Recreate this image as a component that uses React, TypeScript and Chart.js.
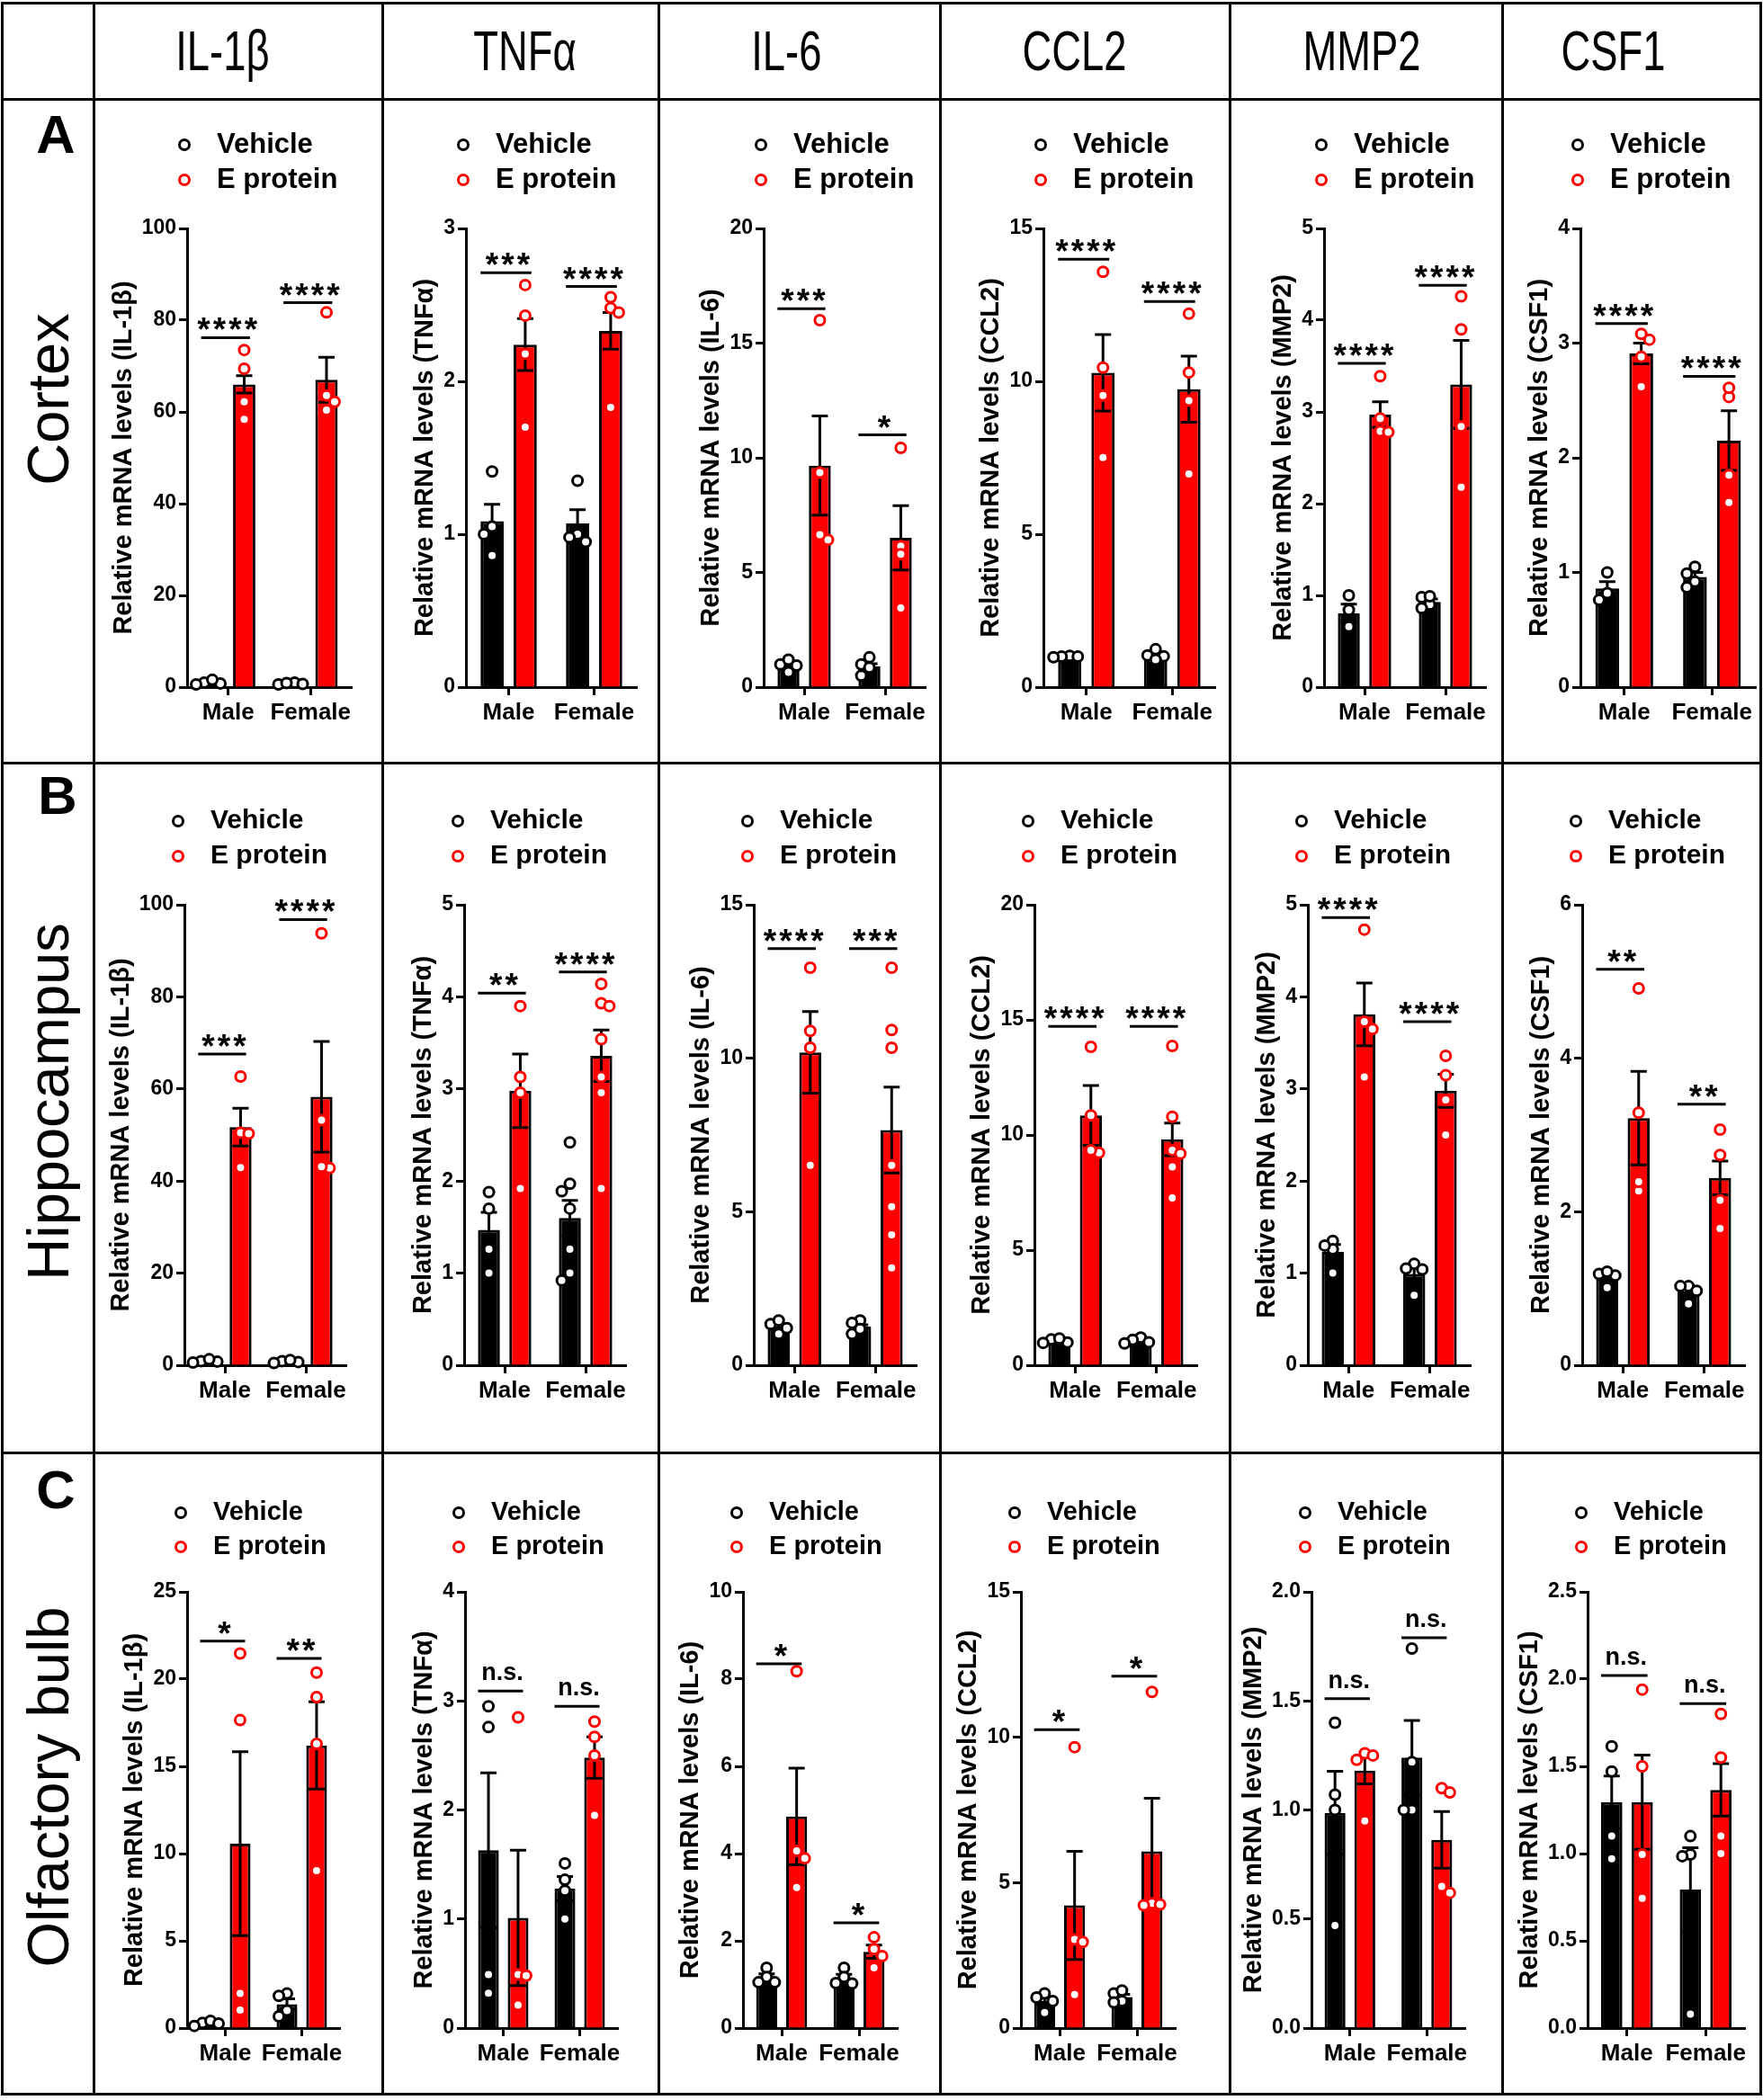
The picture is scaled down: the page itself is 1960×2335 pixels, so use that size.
import React, { useEffect, useRef } from "react";
import { Chart, registerables } from "chart.js";

Chart.register(...registerables);

const FONT = '"Liberation Sans", Arial, Helvetica, sans-serif';

// ---------------- DATA ----------------
const genes = ["IL-1β", "TNFα", "IL-6", "CCL2", "MMP2", "CSF1"];
const regions = ["Cortex", "Hippocampus", "Olfactory bulb"];
const regionLetters = ["A", "B", "C"];
const sexes = ["Male", "Female"];
const treatments = ["Vehicle", "E protein"];

// Cortex (A)
const cortexYMax = [100, 3, 20, 15, 5, 4];
const cortexYStep = [20, 1, 5, 5, 1, 1];
const cortexVehicleMean = [[1.0, 0.8], [1.085, 1.07], [0.94, 0.9], [1.0, 1.05], [0.805, 0.93], [0.86, 0.96]];
const cortexVehicleSem = [[0.2, 0.1], [0.11, 0.09], [0.08, 0.12], [0.02, 0.06], [0.1, 0.03], [0.06, 0.04]];
const cortexEProteinMean = [[66.0, 67.0], [2.24, 2.33], [9.66, 6.51], [10.28, 9.74], [2.97, 3.3], [2.91, 2.15]];
const cortexEProteinSem = [[1.9, 4.9], [0.17, 0.12], [2.16, 1.4], [1.25, 1.08], [0.14, 0.48], [0.09, 0.26]];
const cortexVehiclePoints = [
  [[1.0, 0.6, 0.8, 1.6], [1.0, 0.6, 0.7, 0.9]],
  [[1.41, 1.05, 1.0, 0.86], [1.35, 1.0, 0.98, 0.95]],
  [[0.99, 0.94, 1.2, 0.65], [0.99, 0.85, 1.3, 0.5]],
  [[1.02, 1.0, 1.0, 0.98], [1.04, 1.01, 1.24, 0.9]],
  [[1.0, 0.84, 0.66], [0.98, 0.9, 0.99, 0.86]],
  [[1.0, 0.82, 0.76], [1.05, 0.99, 0.92, 0.87]],
];
const cortexEProteinPoints = [
  [[73.5, 69.4, 62.2, 58.4], [81.7, 63.6, 62.2, 60.4]],
  [[2.63, 2.43, 2.18, 1.7], [2.55, 2.48, 2.45, 1.83]],
  [[16.0, 9.35, 6.42, 6.65], [10.43, 6.15, 5.79, 3.45]],
  [[13.58, 10.45, 9.54, 7.51], [12.21, 10.29, 9.37, 6.97]],
  [[3.39, 2.93, 2.79, 2.78], [4.26, 3.9, 2.84, 2.18]],
  [[3.03, 3.08, 2.88, 2.62], [2.53, 2.61, 1.85, 1.61]],
];
const cortexSigLabels = [["****", "****"], ["***", "****"], ["***", "*"], ["****", "****"], ["****", "****"], ["****", "****"]];
const cortexSigLevel = [[76.2, 83.8], [2.71, 2.62], [16.5, 11.0], [13.99, 12.61], [3.53, 4.38], [3.17, 2.71]];

// Hippocampus (B)
const hippoYMax = [100, 5, 15, 20, 5, 6];
const hippoYStep = [20, 1, 5, 5, 1, 2];
const hippoVehicleMean = [[0.9, 0.8], [1.47, 1.6], [1.26, 1.26], [1.06, 1.06], [1.23, 0.99], [1.17, 0.96]];
const hippoVehicleSem = [[0.15, 0.12], [0.19, 0.19], [0.09, 0.06], [0.04, 0.06], [0.08, 0.07], [0.05, 0.05]];
const hippoEProteinMean = [[51.7, 58.3], [2.98, 3.36], [10.19, 7.66], [10.85, 9.81], [3.81, 2.98], [3.22, 2.44]];
const hippoEProteinSem = [[4.1, 12.0], [0.4, 0.28], [1.33, 1.4], [1.3, 0.71], [0.34, 0.18], [0.61, 0.22]];
const hippoVehiclePoints = [
  [[0.9, 0.6, 0.8, 1.3], [0.9, 0.5, 0.7, 1.1]],
  [[1.7, 1.88, 1.26, 1.0], [2.42, 1.97, 1.89, 1.7, 1.26, 1.0, 0.92]],
  [[1.34, 1.02, 1.21, 1.46], [1.46, 1.38, 1.02, 1.18]],
  [[1.12, 0.99, 1.16, 0.97], [1.2, 1.1, 1.0, 0.95]],
  [[1.35, 1.26, 1.0, 1.3], [1.1, 1.04, 0.76, 1.05]],
  [[1.19, 1.01, 1.17, 1.22], [1.03, 0.97, 0.8, 1.03]],
];
const hippoEProteinPoints = [
  [[62.7, 50.5, 50.3, 42.9], [93.8, 53.2, 42.8, 43.1]],
  [[3.9, 3.13, 2.96, 1.92], [4.14, 3.93, 3.9, 3.54, 3.13, 2.96, 1.92]],
  [[12.95, 10.89, 10.34, 6.51], [12.95, 10.92, 10.34, 6.51, 5.16, 4.25, 3.17]],
  [[13.83, 10.85, 9.23, 9.34], [13.87, 10.79, 9.34, 9.19, 8.61, 7.27]],
  [[4.73, 3.73, 3.65, 3.13], [3.36, 3.15, 2.88, 2.5]],
  [[4.91, 3.29, 2.27, 2.39], [3.07, 2.74, 2.15, 1.78]],
];
const hippoSigLabels = [["***", "****"], ["**", "****"], ["****", "***"], ["****", "****"], ["****", "****"], ["**", "**"]];
const hippoSigLevel = [[67.6, 96.8], [4.04, 4.27], [13.57, 13.57], [14.72, 14.72], [4.86, 3.73], [5.16, 3.4]];

// Olfactory bulb (C)
const olfYMax = [25, 4, 10, 15, 2, 2.5];
const olfYStep = [5, 1, 2, 5, 0.5, 0.5];
const olfVehicleMean = [[0.27, 1.37], [1.63, 1.28], [1.16, 1.15], [0.93, 1.07], [0.987, 1.24], [1.295, 0.794]];
const olfVehicleSem = [[0.07, 0.3], [0.71, 0.11], [0.08, 0.08], [0.14, 0.09], [0.19, 0.17], [0.15, 0.24]];
const olfEProteinMean = [[10.57, 16.2], [1.01, 2.48], [4.85, 1.75], [4.22, 6.08], [1.18, 0.863], [1.295, 1.365]];
const olfEProteinSem = [[5.27, 2.5], [0.62, 0.19], [1.11, 0.15], [1.86, 1.82], [0.06, 0.13], [0.27, 0.15]];
const olfVehiclePoints = [
  [[0.29, 0.12, 0.41, 0.26], [1.98, 1.84, 1.0, 0.67]],
  [[2.95, 2.76, 0.49, 0.32], [1.51, 1.36, 1.26, 1.0]],
  [[1.38, 1.17, 1.05, 1.05], [1.38, 1.17, 1.03, 1.02]],
  [[1.19, 0.93, 0.53, 1.05], [1.19, 0.93, 1.29, 0.88]],
  [[1.4, 1.07, 1.0, 0.47], [1.74, 1.22, 1.0, 1.0]],
  [[1.615, 1.47, 1.1, 0.97], [1.1, 0.995, 0.985, 0.08]],
];
const olfEProteinPoints = [
  [[21.47, 17.65, 1.98, 1.03], [20.37, 18.97, 16.29, 9.02]],
  [[2.85, 0.49, 0.48, 0.21], [2.81, 2.67, 2.5, 1.95]],
  [[8.18, 4.06, 3.89, 3.22], [2.08, 1.81, 1.65, 1.38]],
  [[9.66, 3.05, 2.96, 1.15], [11.56, 4.29, 4.22, 4.25]],
  [[1.26, 1.25, 1.23, 0.95], [1.1, 1.08, 0.62, 0.65]],
  [[1.94, 1.5, 0.995, 0.744], [1.8, 1.55, 1.1, 1.0]],
];
const olfSigLabels = [["*", "**"], ["n.s.", "n.s."], ["*", "*"], ["*", "*"], ["n.s.", "n.s."], ["n.s.", "n.s."]];
const olfSigLevel = [[22.18, 21.18], [3.09, 2.95], [8.35, 2.41], [10.26, 12.1], [1.51, 1.79], [2.02, 1.86]];

const REGION_TABLE = [
  { yMax: cortexYMax, step: cortexYStep, vm: cortexVehicleMean, vs: cortexVehicleSem, em: cortexEProteinMean, es: cortexEProteinSem, vp: cortexVehiclePoints, ep: cortexEProteinPoints, sig: cortexSigLabels, sigY: cortexSigLevel },
  { yMax: hippoYMax, step: hippoYStep, vm: hippoVehicleMean, vs: hippoVehicleSem, em: hippoEProteinMean, es: hippoEProteinSem, vp: hippoVehiclePoints, ep: hippoEProteinPoints, sig: hippoSigLabels, sigY: hippoSigLevel },
  { yMax: olfYMax, step: olfYStep, vm: olfVehicleMean, vs: olfVehicleSem, em: olfEProteinMean, es: olfEProteinSem, vp: olfVehiclePoints, ep: olfEProteinPoints, sig: olfSigLabels, sigY: olfSigLevel },
];

// ---------------- LAYOUT ----------------
const COL_X = [2, 104, 425, 732, 1045, 1367, 1670, 1957];
const ROW_Y = [3, 110, 848, 1615, 2328];
const PLOT_TOP = [254, 1006, 1770];
const PLOT_BOTTOM = [764, 1518, 2255];
const AXIS_LEFT = [
  [208, 518, 849, 1160, 1472, 1757],
  [205, 516, 838, 1150, 1454, 1759],
  [208, 517, 826, 1135, 1458, 1765],
];
const AXIS_RIGHT = [
  [391, 708, 1029, 1351, 1652, 1952],
  [385, 696, 1019, 1331, 1635, 1940],
  [378, 687, 998, 1307, 1629, 1940],
];
const LEGEND_DY = [[93, 54], [93, 54], [88, 50]];
const LEGEND_DX = [-3, -7, -7];
const LEGEND_FONT = [31, 30, 29];
const HEADER_CX = [247, 583, 874, 1195, 1514, 1794];
const ROW_LABEL_CY = [444, 1225, 1987];
const LETTER_POS = [[62, 150], [64, 885], [62, 1657]];
const COLORS = ["#000000", "#ff0000"];
const X_AXIS_H = 50;
const PT_R = 5.5;
const SWARM_STEP = 9;

// Simple beeswarm: spread points that would overlap, preferring one side per treatment
function swarmX(py: number[], cx: number, dir: number): number[] {
  const idx = py.map((_, i) => i).sort((a, b) => py[a] - py[b]);
  const placed: number[][] = [];
  const out: number[] = new Array(py.length).fill(cx);
  for (const i of idx) {
    for (let n = 0; n < 40; n++) {
      const k = Math.ceil(n / 2) * (n % 2 === 1 ? dir : -dir);
      const x = cx + k * SWARM_STEP;
      if (placed.every((p) => Math.hypot(p[0] - x, p[1] - py[i]) >= SWARM_STEP - 0.01)) {
        out[i] = x;
        break;
      }
    }
    placed.push([out[i], py[i]]);
  }
  return out;
}

function drawCircle(ctx: CanvasRenderingContext2D, x: number, y: number, color: string) {
  ctx.beginPath();
  ctx.arc(x, y, PT_R, 0, Math.PI * 2);
  ctx.fillStyle = "#ffffff";
  ctx.fill();
  ctx.lineWidth = 3;
  ctx.strokeStyle = color;
  ctx.stroke();
}

function makeOverlay(r: number, g: number) {
  const d = REGION_TABLE[r];
  return {
    id: "overlay" + r + "_" + g,
    afterDatasetsDraw(chart: any) {
      const ctx: CanvasRenderingContext2D = chart.ctx;
      const ys = chart.scales.y;
      const metas = [chart.getDatasetMeta(0), chart.getDatasetMeta(1)];
      const means = [d.vm[g], d.em[g]];
      const sems = [d.vs[g], d.es[g]];
      const pts = [d.vp[g], d.ep[g]];
      ctx.save();
      // error bars (mean ± SEM)
      ctx.strokeStyle = "#000";
      ctx.lineWidth = 3;
      for (let t = 0; t < 2; t++) {
        for (let s = 0; s < 2; s++) {
          const bar = metas[t].data[s];
          const x = bar.x;
          const m = means[t][s];
          const e = sems[t][s];
          const yt = ys.getPixelForValue(m + e);
          const yb = ys.getPixelForValue(Math.max(0, m - e));
          ctx.beginPath();
          ctx.moveTo(x, yb);
          ctx.lineTo(x, yt);
          ctx.moveTo(x - 9, yt);
          ctx.lineTo(x + 9, yt);
          ctx.moveTo(x - 9, yb);
          ctx.lineTo(x + 9, yb);
          ctx.stroke();
        }
      }
      // individual points
      for (let t = 0; t < 2; t++) {
        for (let s = 0; s < 2; s++) {
          const bar = metas[t].data[s];
          const py = pts[t][s].map((v: number) => ys.getPixelForValue(v));
          const px = swarmX(py, bar.x, t === 0 ? -1 : 1);
          for (let k = 0; k < py.length; k++) drawCircle(ctx, px[k], py[k], COLORS[t]);
        }
      }
      // significance brackets
      for (let s = 0; s < 2; s++) {
        const vb = metas[0].data[s];
        const eb = metas[1].data[s];
        const x1 = vb.x - vb.width / 2;
        const x2 = eb.x + eb.width / 2 - 6;
        const y = ys.getPixelForValue(d.sigY[g][s]);
        ctx.strokeStyle = "#000";
        ctx.lineWidth = 3;
        ctx.beginPath();
        ctx.moveTo(x1, y);
        ctx.lineTo(x2, y);
        ctx.stroke();
        const label = d.sig[g][s];
        const cx = (x1 + x2) / 2 + 2;
        ctx.fillStyle = "#000";
        ctx.textAlign = "center";
        ctx.textBaseline = "alphabetic";
        if (label.charAt(0) === "*") {
          ctx.font = "bold 37px " + FONT;
          const m = ctx.measureText("*");
          const base = y - 8 - m.actualBoundingBoxDescent;
          const n = label.length;
          for (let k = 0; k < n; k++) ctx.fillText("*", cx + (k - (n - 1) / 2) * 17.5, base);
        } else {
          ctx.font = "bold 27px " + FONT;
          ctx.fillText(label, cx, y - 12);
        }
      }
      ctx.restore();
    },
    afterDraw(chart: any) {
      const ctx: CanvasRenderingContext2D = chart.ctx;
      const ca = chart.chartArea;
      const ys = chart.scales.y;
      ctx.save();
      // legend
      const lx = ca.left + LEGEND_DX[r];
      for (let t = 0; t < 2; t++) {
        const ly = ca.top - LEGEND_DY[r][t];
        drawCircle(ctx, lx, ly, COLORS[t]);
        ctx.font = "bold " + LEGEND_FONT[r] + "px " + FONT;
        ctx.fillStyle = "#000";
        ctx.textAlign = "left";
        ctx.textBaseline = "middle";
        ctx.fillText(treatments[t], lx + 36, ly);
      }
      // y-axis title
      ctx.font = "bold 23px " + FONT;
      let maxW = 0;
      for (const tk of ys.ticks) maxW = Math.max(maxW, ctx.measureText(String(tk.label)).width);
      const tx = ca.left - 8 - 3 - maxW - 7 - 14;
      ctx.translate(tx, (ca.top + ca.bottom) / 2);
      ctx.rotate(-Math.PI / 2);
      ctx.font = "bold 29px " + FONT;
      ctx.textAlign = "center";
      ctx.textBaseline = "middle";
      ctx.fillStyle = "#000";
      ctx.fillText("Relative mRNA levels (" + genes[g] + ")", 0, 0);
      ctx.restore();
    },
  };
}

function Panel({ r, g }: { r: number; g: number }) {
  const ref = useRef<HTMLCanvasElement | null>(null);
  const left = COL_X[g + 1];
  const right = COL_X[g + 2];
  const top = ROW_Y[r + 1];
  const bottom = ROW_Y[r + 2];
  const W = right - left;
  const H = bottom - top;
  useEffect(() => {
    const d = REGION_TABLE[r];
    const step = d.step[g];
    const gridOpts = { display: true, drawOnChartArea: false, drawTicks: true, tickLength: 9, tickWidth: 3, tickColor: "#000" };
    const borderOpts = { display: true, color: "#000", width: 3 };
    const chart = new Chart(ref.current as HTMLCanvasElement, {
      type: "bar",
      data: {
        labels: sexes,
        datasets: [
          { label: treatments[0], data: d.vm[g], backgroundColor: COLORS[0], borderColor: "#000", borderWidth: 3, categoryPercentage: 0.775, barPercentage: 0.7 },
          { label: treatments[1], data: d.em[g], backgroundColor: COLORS[1], borderColor: "#000", borderWidth: 3, categoryPercentage: 0.775, barPercentage: 0.7 },
        ],
      },
      options: {
        responsive: false,
        maintainAspectRatio: false,
        animation: false,
        events: [],
        layout: {
          padding: {
            left: 0,
            right: right - AXIS_RIGHT[r][g],
            top: PLOT_TOP[r] - top,
            bottom: bottom - PLOT_BOTTOM[r] - X_AXIS_H,
          },
        },
        plugins: { legend: { display: false }, tooltip: { enabled: false }, title: { display: false } },
        scales: {
          x: {
            type: "category",
            offset: true,
            grid: { ...gridOpts, offset: false },
            border: borderOpts,
            ticks: { color: "#000", font: { family: FONT, size: 26, weight: "bold" }, padding: 4, maxRotation: 0, autoSkip: false },
            afterFit: (s: any) => { s.height = X_AXIS_H; },
          },
          y: {
            min: 0,
            max: d.yMax[g],
            grid: gridOpts,
            border: borderOpts,
            ticks: {
              stepSize: step,
              color: "#000",
              padding: 3,
              font: { family: FONT, size: 23, weight: "bold" },
              callback: (v: any) => (step < 1 ? Number(v).toFixed(1) : String(v)),
            },
            afterFit: (s: any) => { s.width = AXIS_LEFT[r][g] - left; },
          },
        },
      } as any,
      plugins: [makeOverlay(r, g)],
    });
    return () => chart.destroy();
  }, [r, g]);
  return <canvas ref={ref} width={W} height={H} style={{ position: "absolute", left, top, width: W, height: H }} />;
}

export default function App() {
  const lines: any[] = [];
  ROW_Y.forEach((y, i) =>
    lines.push(
      <div key={"h" + i} style={{ position: "absolute", left: COL_X[0] - 1.5, top: y - 1.5, width: COL_X[7] - COL_X[0] + 3, height: 3, background: "#000", zIndex: 3 }} />
    )
  );
  COL_X.forEach((x, i) =>
    lines.push(
      <div key={"v" + i} style={{ position: "absolute", left: x - 1.5, top: ROW_Y[0] - 1.5, width: 3, height: ROW_Y[4] - ROW_Y[0] + 3, background: "#000", zIndex: 3 }} />
    )
  );
  const panels: any[] = [];
  for (let r = 0; r < 3; r++) for (let g = 0; g < 6; g++) panels.push(<Panel key={r + "-" + g} r={r} g={g} />);
  return (
    <div style={{ position: "absolute", left: 0, top: 0, width: 1960, height: 2335, background: "#fff", overflow: "hidden", fontFamily: FONT, color: "#000" }}>
      {genes.map((name, g) => (
        <div key={"hd" + g} style={{ position: "absolute", left: HEADER_CX[g] - 150, width: 300, top: ROW_Y[0], height: ROW_Y[1] - ROW_Y[0], display: "flex", alignItems: "center", justifyContent: "center", fontSize: 63, lineHeight: 1 }}>
          <span style={{ display: "inline-block", transform: "scaleX(0.72)", whiteSpace: "nowrap" }}>{name}</span>
        </div>
      ))}
      {regions.map((name, r) => (
        <div key={"rl" + r} style={{ position: "absolute", left: 53 - 300, top: ROW_LABEL_CY[r] - 40, width: 600, height: 80, display: "flex", alignItems: "center", justifyContent: "center", transform: "rotate(-90deg)", fontSize: 65, lineHeight: 1, whiteSpace: "nowrap" }}>
          {name}
        </div>
      ))}
      {regionLetters.map((L, r) => (
        <div key={"lt" + r} style={{ position: "absolute", left: LETTER_POS[r][0] - 50, top: LETTER_POS[r][1] - 40, width: 100, height: 80, display: "flex", alignItems: "center", justifyContent: "center", fontSize: 60, fontWeight: "bold", lineHeight: 1 }}>
          {L}
        </div>
      ))}
      {panels}
      {lines}
    </div>
  );
}
